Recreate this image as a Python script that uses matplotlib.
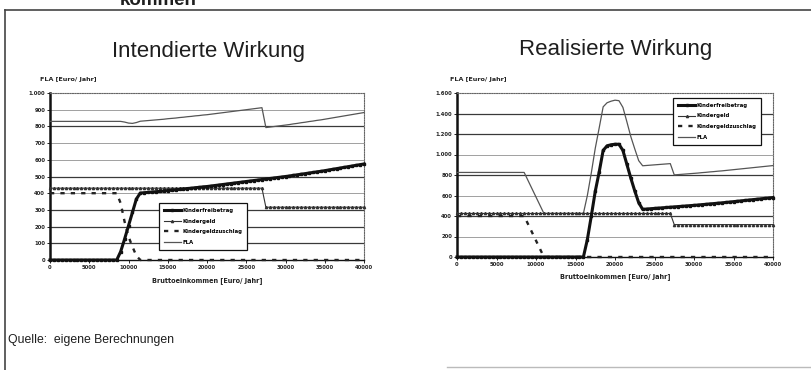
import matplotlib
matplotlib.use("Agg")
import matplotlib.pyplot as plt
from matplotlib.lines import Line2D
from matplotlib.ticker import FuncFormatter

# Bruttoeinkommen in 500-Euro-Schritten
einkommen = list(range(0, 40001, 500))

# --- Intendierte Wirkung (Euro/Jahr) ---
kfb_int = ([0] * 18
           + [50, 125, 205, 285, 365]
           + [401, 403, 405, 407, 409, 411, 413, 416, 418, 420, 423, 425, 428, 430,
              433, 435, 438, 440, 443, 446, 449, 452, 455, 458, 461, 464, 467, 470,
              473, 476, 479, 482, 485, 488, 491, 494, 497, 500, 503, 507, 510, 514,
              517, 521, 524, 528, 531, 535, 539, 543, 547, 551, 555, 559, 563, 567,
              571, 575])
kg_int = [430] * 55 + [316] * 26
kgz_int = [400] * 18 + [340, 230, 140, 80, 25] + [0] * 58
fla_int = ([830] * 19
           + [826, 820, 818, 823]
           + [831, 833, 835, 837, 839, 841, 843, 846, 848, 850, 853, 855, 858, 860,
              863, 865, 868, 870, 873, 876, 879, 882, 885, 888, 891, 894, 897, 900,
              903, 906, 909, 912]
           + [793, 796, 799, 802, 805, 808, 811, 815, 818, 822, 825, 829, 832, 836,
              839, 843, 847, 851, 855, 859, 863, 867, 871, 875, 879, 883])

# --- Realisierte Wirkung (Euro/Jahr) ---
kfb_real = ([0] * 33
            + [170, 400, 640, 830, 1040, 1085, 1095, 1100, 1100, 1040, 905, 770, 645,
               530, 465]
            + [468, 471, 474, 477, 480, 483, 486, 489, 492, 495, 498, 501, 504, 507,
               511, 514, 518, 521, 525, 528, 532, 536, 540, 544, 548, 552, 556, 560,
               564, 568, 572, 576, 580])
kg_real = [425] * 55 + [316] * 26
kgz_real = [400] * 18 + [320, 240, 160, 80, 0] + [0] * 58
fla_real = ([825] * 18
            + [745, 665, 585, 505, 425]
            + [425] * 10
            + [600, 820, 1060, 1260, 1465, 1505, 1520, 1530, 1525, 1460, 1320, 1175,
               1055, 940, 890]
            + [893, 896, 899, 902, 905, 908, 911]
            + [801, 804, 807, 810, 813, 816, 819, 823, 826, 830, 833, 837, 840, 844,
               848, 852, 856, 860, 864, 868, 872, 876, 880, 884, 888, 892])

serien_namen = ["Kinderfreibetrag", "Kindergeld", "Kindergeldzuschlag", "FLA"]
x_ticks = [0, 5000, 10000, 15000, 20000, 25000, 30000, 35000, 40000]
y_ticks_int = list(range(0, 1001, 100))
y_ticks_real = list(range(0, 1601, 200))

plt.rcParams["font.family"] = ["DejaVu Sans"]

W, H = 811, 370
fig = plt.figure(figsize=(W / 100, H / 100), dpi=100)
fig.patch.set_facecolor("white")


def px_axes(x0, y0, x1, y1):
    return fig.add_axes([x0 / W, 1 - y1 / H, (x1 - x0) / W, (y1 - y0) / H])


def thousands(v, _pos):
    return f"{int(v):,}".replace(",", ".")


def panel(ax, kfb, kg, kgz, fla, yticks, dark, legend_box):
    ymax = yticks[-1]
    ax.set_xlim(0, 40000)
    ax.set_ylim(0, ymax)
    for v in yticks[1:-1]:
        ax.axhline(v, color="#3a3a3a" if v in dark else "#a0a0a0",
                   lw=0.9 if v in dark else 0.7, zorder=1)

    ax.plot(einkommen, fla, color="#555555", lw=0.9, zorder=3,
            label=serien_namen[3], clip_on=False)
    ax.plot(einkommen, kg, color="#333333", lw=0.8, marker="^", ms=1.6,
            zorder=4, label=serien_namen[1], clip_on=False)
    ax.plot(einkommen, kgz, color="#222222", lw=1.7, ls=(0, (1.8, 2.6)),
            zorder=4, label=serien_namen[2], clip_on=False)
    ax.plot(einkommen, kfb, color="#111111", lw=2.2, marker="s", ms=2.1,
            zorder=5, label=serien_namen[0], clip_on=False)

    ax.set_xticks(x_ticks)
    ax.set_yticks(yticks)
    ax.yaxis.set_major_formatter(FuncFormatter(thousands))
    ax.tick_params(axis="both", labelsize=3.8, length=2, width=0.7,
                   colors="#222222", pad=1.5)
    for lab in ax.get_xticklabels() + ax.get_yticklabels():
        lab.set_fontweight("bold")

    ax.spines["left"].set_linewidth(1.8)
    ax.spines["left"].set_color("#111111")
    ax.spines["bottom"].set_linewidth(1.0)
    ax.spines["bottom"].set_color("#111111")
    for s in ("top", "right"):
        ax.spines[s].set_linestyle((0, (1, 1.2)))
        ax.spines[s].set_linewidth(0.8)
        ax.spines[s].set_color("#666666")

    handles, labels = ax.get_legend_handles_labels()
    order = [labels.index(n) for n in serien_namen]
    leg = ax.legend([handles[i] for i in order], [labels[i] for i in order],
                    loc="upper left", bbox_to_anchor=legend_box,
                    borderaxespad=0, fancybox=False, framealpha=1,
                    edgecolor="#111111", handlelength=3.2,
                    handletextpad=0.2, labelspacing=1.05, borderpad=0.9,
                    prop={"weight": "bold", "size": 3.9})
    leg.get_frame().set_linewidth(0.9)
    leg.set_zorder(10)


ax_l = px_axes(50, 93, 364, 260)
panel(ax_l, kfb_int, kg_int, kgz_int, fla_int, y_ticks_int,
      dark={100, 200, 300, 500, 800}, legend_box=(0.347, 0.341))

ax_r = px_axes(457, 93, 773, 257)
panel(ax_r, kfb_real, kg_real, kgz_real, fla_real, y_ticks_real,
      dark={400, 800, 1200, 1400}, legend_box=(0.684, 0.97))

# Titel und Achsenbeschriftungen
txt = "#1e1e1e"
fig.text(208 / W, 1 - 57 / H, "Intendierte Wirkung", ha="center", va="baseline",
         fontsize=16, family="Liberation Sans", color=txt)
fig.text(616 / W, 1 - 55 / H, "Realisierte Wirkung", ha="center", va="baseline",
         fontsize=16, family="Liberation Sans", color=txt)
for xc, yc in ((68, 80), (478, 80)):
    fig.text(xc / W, 1 - yc / H, "FLA [Euro/ Jahr]", ha="center", va="center",
             fontsize=4.6, fontweight="bold", color="#222222")
for xc, yc in ((207, 281), (615, 277)):
    fig.text(xc / W, 1 - yc / H, "Bruttoeinkommen [Euro/ Jahr]", ha="center",
             va="center", fontsize=4.7, fontweight="bold", color="#222222")

fig.text(8 / W, 1 - 343 / H, "Quelle:  eigene Berechnungen", ha="left",
         va="baseline", fontsize=8.8, family="Liberation Sans", color=txt)
fig.text(158 / W, 1 - 5 / H, "kommen", ha="center", va="baseline",
         fontsize=13.5, fontweight="bold", family="Liberation Sans", color=txt)

# Rahmen der Folie
fig.add_artist(Line2D([5 / W, 1], [1 - 10 / H, 1 - 10 / H], color="#444444", lw=1.2))
fig.add_artist(Line2D([5 / W, 5 / W], [0, 1 - 10 / H], color="#444444", lw=1.2))
fig.add_artist(Line2D([447 / W, 1], [1 - 367 / H, 1 - 367 / H], color="#bbbbbb", lw=1.0))

fig.savefig("out.png", dpi=100, facecolor="white")
